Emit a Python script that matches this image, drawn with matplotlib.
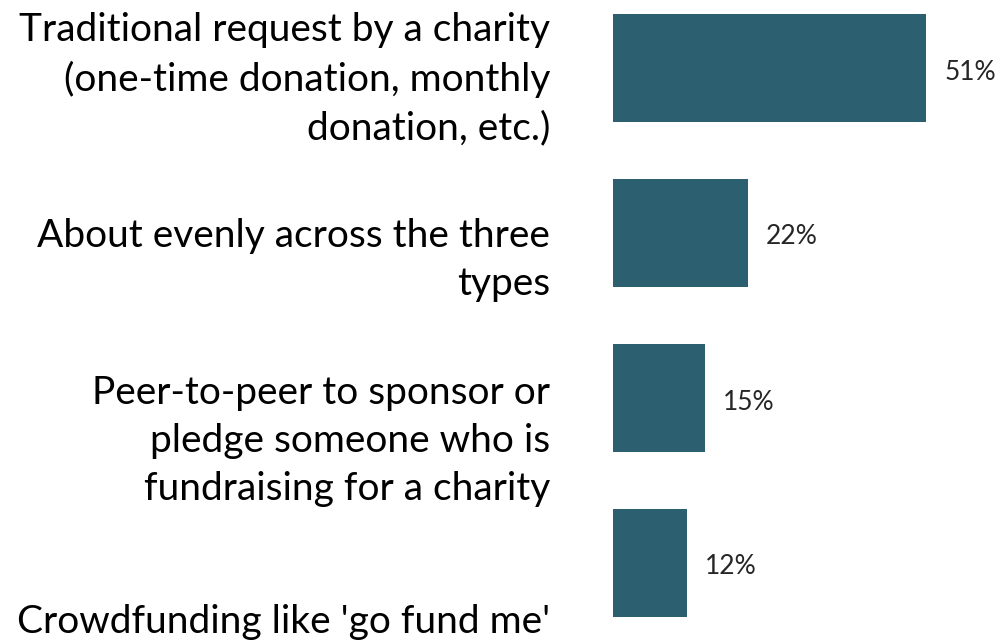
import matplotlib
matplotlib.use('Agg')
import matplotlib.pyplot as plt

# Preferred way of giving, share of respondents
categories = [
    "Traditional request by a charity\n(one-time donation, monthly\ndonation, etc.)",
    "About evenly across the three\ntypes",
    "Peer-to-peer to sponsor or\npledge someone who is\nfundraising for a charity",
    "Crowdfunding like 'go fund me'",
]
values = [51, 22, 15, 12]
value_labels = ["51%", "22%", "15%", "12%"]

W, H = 1003, 640
bar_color = '#2C5F6F'

fig = plt.figure(figsize=(W / 100, H / 100), dpi=100)
plt.rcParams['font.family'] = ['Lato', 'DejaVu Sans']

# bars sit in an axes on the right part of the figure
ax = fig.add_axes([613 / W, 0, (W - 613) / W, 1])
pos = list(range(len(values)))
ax.barh(pos, values, height=0.66, color=bar_color)
ax.set_xlim(0, (W - 613) / 6.14)
ax.set_ylim((H - 68) / 165, -68 / 165)
ax.axis('off')

for p, v, lab in zip(pos, values, value_labels):
    ax.annotate(lab, (v, p), xytext=(18, -4), textcoords='offset pixels',
                ha='left', va='center', fontsize=19, color='#262626')

# category labels, right aligned left of the bars
for i, cat in enumerate(categories):
    fig.text(550 / W, 1 - (79 + 181 * i) / H, cat, ha='right', va='center',
             fontsize=28, color='black', linespacing=1.42)

fig.savefig('out.png', dpi=100)
